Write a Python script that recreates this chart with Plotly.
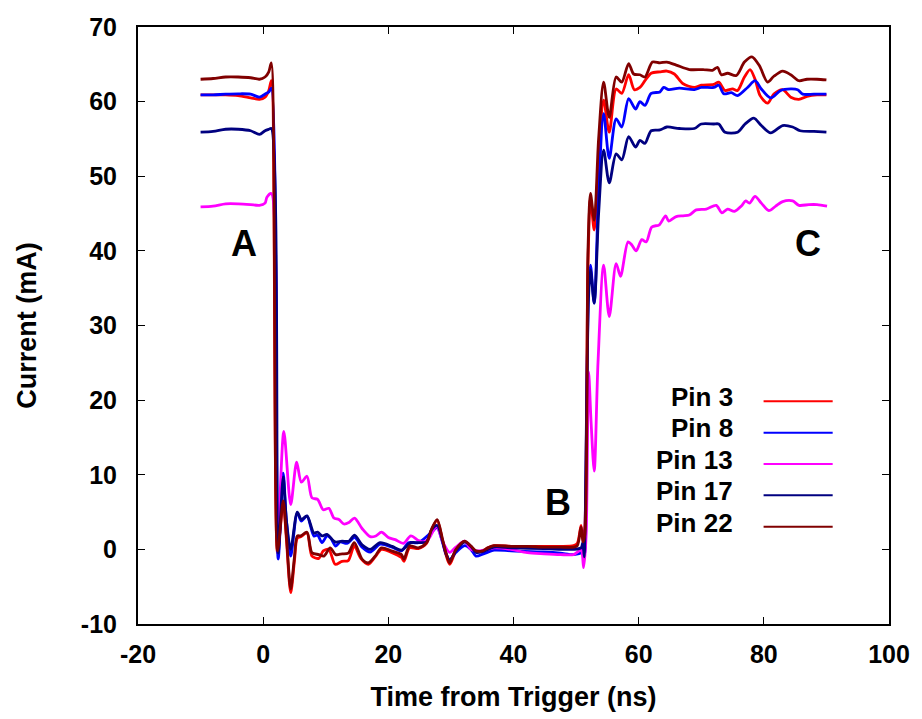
import plotly.graph_objects as go

# Measured supply current per pin (mA) versus time from trigger (ns)
t_pin3 = [-10, -8, -6, -4, -2, -0.6, 0.3, 0.9, 1.3, 2.3, 3.2, 3.7, 4.4, 5.0, 5.45, 6.0, 7.0, 7.8, 8.9,
          9.6, 10.5, 11.5, 12.6, 13.6, 14.55, 15.6, 16.8, 17.9, 18.9, 20.5, 22.1, 22.5, 23.4, 24.8, 26.1,
          26.9, 27.8, 28.7, 29.2, 29.8, 30.8, 32.2, 33.2, 34.0, 35.1, 35.9, 36.9, 39.6, 42.2, 44.9, 47.5,
          49.6, 50.2, 50.8, 51.1, 51.4, 51.9, 52.3, 52.9, 53.6, 54.4, 55.3, 56.4, 57.3, 58.4, 59.3, 60.2,
          61.0, 62.0, 63.4, 64.5, 65.7, 67.1, 68.9, 70.0, 72.0, 72.8, 73.8, 75.0, 75.8, 76.9, 77.8, 78.6,
          79.4, 80.6, 81.6, 83.0, 84.3, 85.6, 86.9, 88.5, 90.0]
i_pin3 = [60.9, 60.9, 60.9, 60.8, 60.5, 60.3, 60.6, 61.5, 62.8, -0.5, 6.3, 1.5, -5.8, -1.5, 1.5, 1.7, 2.2, -0.9, -1.2,
          -0.2, 0.0, -2.0, -1.6, -1.5, 0.45, -1.2, -2.0, -1.0, 0.0, -0.4, -1.1, -1.6, 0.2, 0.1, 0.8,
          2.6, 3.9, 1.0, -0.7, -2.0, -0.2, 1.0, 0.3, -0.3, -0.2, 0.2, 0.5, 0.4, 0.4, 0.4, 0.4,
          0.5, 0.8, 3.2, 1.0, 3.0, 38.0, 47.0, 42.8, 52.0, 60.2, 55.9, 61.7, 61.1, 63.6, 61.6, 61.9,
          62.8, 63.8, 64.0, 64.1, 63.7, 62.4, 61.9, 62.2, 62.3, 62.6, 61.5, 61.7, 61.5, 63.3, 64.3, 63.0,
          60.8, 59.8, 61.0, 61.6, 60.6, 60.3, 60.7, 60.9, 60.9]

t_pin8 = [-10, -8, -6, -4, -2, -0.6, 0.3, 0.9, 1.3, 2.4, 3.2, 3.7, 4.4, 5.45, 6.1, 7.0, 8.1, 8.7, 9.4,
          10.2, 10.8, 11.6, 12.3, 13.4, 14.6, 15.8, 17.1, 18.7, 20.6, 22.1, 23.2, 24.8, 26.9, 27.8, 28.7,
          29.2, 29.8, 30.8, 32.2, 33.2, 34.0, 35.2, 36.9, 39.6, 44.9, 47.5, 49.6, 50.9, 51.2, 51.4, 51.7,
          52.0, 52.3, 52.9, 53.6, 54.4, 55.3, 56.4, 57.3, 58.4, 59.5, 60.2, 61.0, 62.0, 63.4, 64.0, 64.8,
          66.5, 68.9, 70.0, 72.0, 72.8, 73.6, 74.8, 75.8, 77.4, 78.6, 79.6, 81.1, 82.7, 84.3, 85.4, 86.2,
          88.0, 90.0]
i_pin8 = [60.9, 60.9, 61.0, 61.05, 61.0, 60.6, 61.0, 61.3, 61.8, -1.3, 10.2, 4.0, -0.9, 4.9, 3.8, 4.45, 1.8, 1.9, 0.9,
          1.8, 1.5, 0.45, 1.0, 0.8, 1.6, 0.3, -0.35, 0.7, 0.3, -0.2, 0.9, 0.9, 2.3, 2.9, 0.8,
          -0.6, -1.4, -0.4, 0.5, 0.0, -0.9, -0.6, -0.1, -0.2, -0.35, -0.5, -0.7, -0.4, 0.5, -0.6, 20.0,
          35.0, 38.1, 33.0, 48.0, 58.4, 52.4, 57.7, 56.6, 60.4, 59.0, 60.0, 59.5, 61.1, 61.3, 61.9, 61.6,
          61.8, 61.6, 61.9, 61.9, 62.2, 61.05, 61.2, 60.8, 61.9, 62.8, 61.7, 60.5, 61.5, 61.7, 61.6, 61.0,
          61.0, 61.0]

t_pin13 = [-10, -8, -6, -4, -2, -0.6, 0.3, 0.6, 1.3, 2.3, 3.3, 4.4, 5.35, 6.1, 7.0, 7.8, 8.7, 9.6, 10.5,
           11.3, 12.1, 12.9, 13.7, 14.6, 15.8, 17.1, 18.0, 18.9, 20.0, 21.1, 22.4, 23.6, 24.8, 25.6, 26.5,
           27.7, 28.7, 29.8, 30.8, 32.2, 33.2, 34.2, 35.9, 36.9, 39.6, 42.2, 44.9, 47.5, 49.6, 50.8, 51.2,
           51.6, 52.0, 52.4, 52.9, 53.5, 54.4, 55.3, 56.4, 57.1, 58.3, 58.9, 59.6, 60.5, 61.2, 62.1, 63.3,
           64.3, 64.8, 66.0, 67.1, 68.1, 69.2, 70.8, 72.4, 73.3, 74.2, 75.3, 76.4, 77.1, 77.7, 78.6, 79.6,
           80.8, 81.9, 83.0, 84.6, 85.6, 87.2, 88.5, 90.1]
i_pin13 = [45.9, 46.0, 46.3, 46.3, 46.2, 46.1, 46.4, 47.2, 47.7, 1.3, 15.8, 6.0, 11.7, 9.0, 9.8, 6.9, 6.7, 5.3, 5.5,
           4.2, 4.0, 3.4, 3.6, 4.2, 2.8, 1.7, 1.8, 2.3, 1.6, 1.3, 0.8, 1.8, 1.2, 1.0, 1.5,
           3.1, 1.0, -0.4, 0.3, 1.1, 0.0, -0.2, 0.0, 0.2, 0.0, -0.45, -0.6, -0.7, -0.7, -0.1, -2.45,
           1.8, 23.8, 17.0, 10.5, 25.0, 38.1, 31.2, 38.3, 36.6, 41.2, 40.8, 40.0, 41.5, 41.2, 43.2, 43.5,
           44.7, 44.0, 44.6, 44.7, 44.8, 45.5, 45.6, 46.1, 45.1, 45.6, 45.3, 46.0, 46.7, 46.4, 47.3, 46.4,
           45.4, 46.0, 46.6, 46.7, 46.1, 46.2, 46.2, 46.0]

t_pin17 = [-10, -8, -6, -4, -2, -0.6, 0.3, 0.9, 1.3, 2.4, 3.2, 3.7, 4.4, 5.45, 6.1, 7.0, 8.1, 8.7, 9.4,
           10.2, 11.5, 12.6, 13.7, 14.6, 15.8, 17.1, 18.7, 20.6, 22.1, 23.6, 24.8, 26.1, 26.9, 27.8, 28.7,
           29.2, 29.8, 30.8, 32.2, 33.2, 34.0, 35.1, 36.9, 39.6, 44.9, 49.6, 50.8, 51.1, 51.3, 51.7, 52.0,
           52.3, 52.9, 53.6, 54.4, 55.3, 56.4, 57.3, 58.4, 59.5, 60.2, 61.0, 62.0, 63.4, 64.5, 66.5, 68.9,
           70.0, 72.0, 72.8, 73.8, 75.8, 77.0, 78.4, 79.6, 81.1, 83.0, 84.6, 85.8, 88.0, 90.0]
i_pin17 = [55.9, 56.0, 56.3, 56.3, 56.1, 55.6, 56.1, 56.3, 56.4, -0.5, 9.7, 4.0, 0.0, 5.0, 4.0, 4.5, 2.2, 2.3, 1.8,
           2.0, 1.0, 1.1, 1.1, 1.9, 0.6, 0.0, 0.9, 0.4, -0.1, 0.9, 0.9, 1.0, 2.6, 3.2, 1.0,
           -0.5, -1.5, -0.2, 1.0, 0.4, -0.4, -0.3, 0.3, 0.2, 0.1, 0.0, 0.2, 1.0, -1.0, 20.0, 34.0,
           37.5, 33.0, 45.0, 53.5, 49.1, 53.0, 52.2, 55.3, 53.9, 54.8, 54.4, 56.1, 56.2, 56.6, 56.4, 56.4,
           57.0, 57.0, 57.0, 55.9, 55.9, 57.0, 57.8, 56.8, 55.8, 56.8, 56.6, 56.1, 56.0, 55.9]

t_pin22 = [-10, -8, -6, -4, -2, -0.6, 0.3, 0.9, 1.3, 2.3, 3.2, 3.7, 4.4, 5.0, 5.45, 6.0, 7.0, 7.8, 8.9,
           9.7, 10.7, 11.6, 12.6, 13.6, 14.55, 15.8, 16.8, 17.9, 18.9, 20.5, 22.1, 22.5, 23.4, 24.8, 26.1,
           26.9, 27.8, 28.7, 29.2, 29.8, 30.8, 32.2, 33.2, 34.0, 35.1, 35.9, 36.9, 39.6, 42.2, 44.9, 47.5,
           49.6, 50.2, 50.8, 51.1, 51.4, 51.9, 52.3, 52.9, 53.6, 54.4, 55.3, 56.4, 57.3, 58.4, 59.2, 60.2,
           61.0, 62.2, 63.4, 64.5, 66.0, 68.1, 70.3, 71.8, 72.6, 73.2, 74.2, 75.6, 76.9, 78.1, 79.3, 80.6,
           81.6, 83.0, 84.3, 85.6, 86.9, 88.5, 90.0]
i_pin22 = [63.0, 63.1, 63.3, 63.3, 63.2, 63.0, 63.3, 64.0, 65.2, -0.2, 6.5, 2.0, -5.3, -1.0, 1.8, 1.8, 2.3, -0.45, -0.7,
           -0.9, 0.2, -0.7, -0.6, -0.5, 0.9, -1.3, -1.8, -0.9, 0.2, -0.2, -0.7, -1.3, 0.45, 0.2, 0.9,
           2.7, 4.0, 1.2, -0.45, -1.8, 0.0, 1.1, 0.45, -0.2, -0.2, 0.2, 0.5, 0.4, 0.4, 0.3, 0.3,
           0.3, 0.5, 3.0, 1.0, 2.0, 40.0, 47.7, 44.1, 55.0, 62.6, 57.9, 63.3, 62.6, 65.1, 63.7, 63.6,
           63.3, 65.3, 65.2, 65.3, 64.9, 64.3, 64.3, 64.2, 64.6, 63.6, 63.8, 63.5, 65.3, 66.0, 64.8, 62.6,
           63.4, 64.1, 63.6, 62.8, 63.0, 63.0, 62.9]

series_names = ["Pin 3", "Pin 8", "Pin 13", "Pin 17", "Pin 22"]
series_t = [t_pin3, t_pin8, t_pin13, t_pin17, t_pin22]
series_i = [i_pin3, i_pin8, i_pin13, i_pin17, i_pin22]
series_colors = ["#ff0000", "#0000ff", "#ff00ff", "#000080", "#800000"]

x_ticks = [-20, 0, 20, 40, 60, 80, 100]
y_ticks = [-10, 0, 10, 20, 30, 40, 50, 60, 70]

# Phase markers: (time, current, label)
phase_labels = [(-3.0, 41.0, "A"), (47.1, 6.3, "B"), (87.1, 41.0, "C")]

FONT = "Liberation Sans, Arial, sans-serif"


def tick_text(values):
    # plain hyphen for negatives, as in the printed axis
    return [str(v) for v in values]


fig = go.Figure()
for name, t, cur, col in zip(series_names, series_t, series_i, series_colors):
    fig.add_trace(go.Scatter(
        x=t, y=cur, mode="lines", name=name, showlegend=False,
        line=dict(color=col, width=2.8, shape="spline", smoothing=0.8),
    ))

# Key drawn at the right: label text followed by a line sample
key_top = 0.373
key_step = 0.0525
for k, (name, col) in enumerate(zip(series_names, series_colors)):
    yk = key_top - k * key_step
    fig.add_shape(type="line", xref="paper", yref="paper",
                  x0=0.833, x1=0.925, y0=yk, y1=yk,
                  line=dict(color=col, width=2))
    fig.add_annotation(xref="paper", yref="paper", x=0.795, y=yk + 0.007,
                       text=name, showarrow=False, xanchor="right", yanchor="middle",
                       font=dict(family=FONT, size=26, color="black", weight="bold"))

for tx, ty, lab in phase_labels:
    fig.add_annotation(x=tx, y=ty, text=lab, showarrow=False,
                       font=dict(family=FONT, size=36, color="black", weight="bold"))

axis_common = dict(
    showgrid=False, zeroline=False, showline=True, linecolor="black", linewidth=2,
    mirror="ticks", ticks="inside", ticklen=7, tickwidth=1, tickcolor="black",
    tickfont=dict(family=FONT, size=25, color="black", weight="bold"),
)

fig.update_xaxes(range=[-20, 100], tickvals=x_ticks, ticktext=tick_text(x_ticks),
                 ticklabelstandoff=7,
                 title=dict(text="Time from Trigger (ns)", standoff=20,
                            font=dict(family=FONT, size=27, color="black", weight="bold")),
                 **axis_common)
fig.update_yaxes(range=[-10, 70], tickvals=y_ticks, ticktext=tick_text(y_ticks),
                 ticklabelstandoff=14,
                 title=dict(text="Current (mA)", standoff=36,
                            font=dict(family=FONT, size=27, color="black", weight="bold")),
                 **axis_common)

fig.update_layout(
    width=922, height=719,
    margin=dict(l=138, r=28, t=27, b=94),
    plot_bgcolor="white", paper_bgcolor="white",
    showlegend=False,
)

fig.write_html("out.html")
